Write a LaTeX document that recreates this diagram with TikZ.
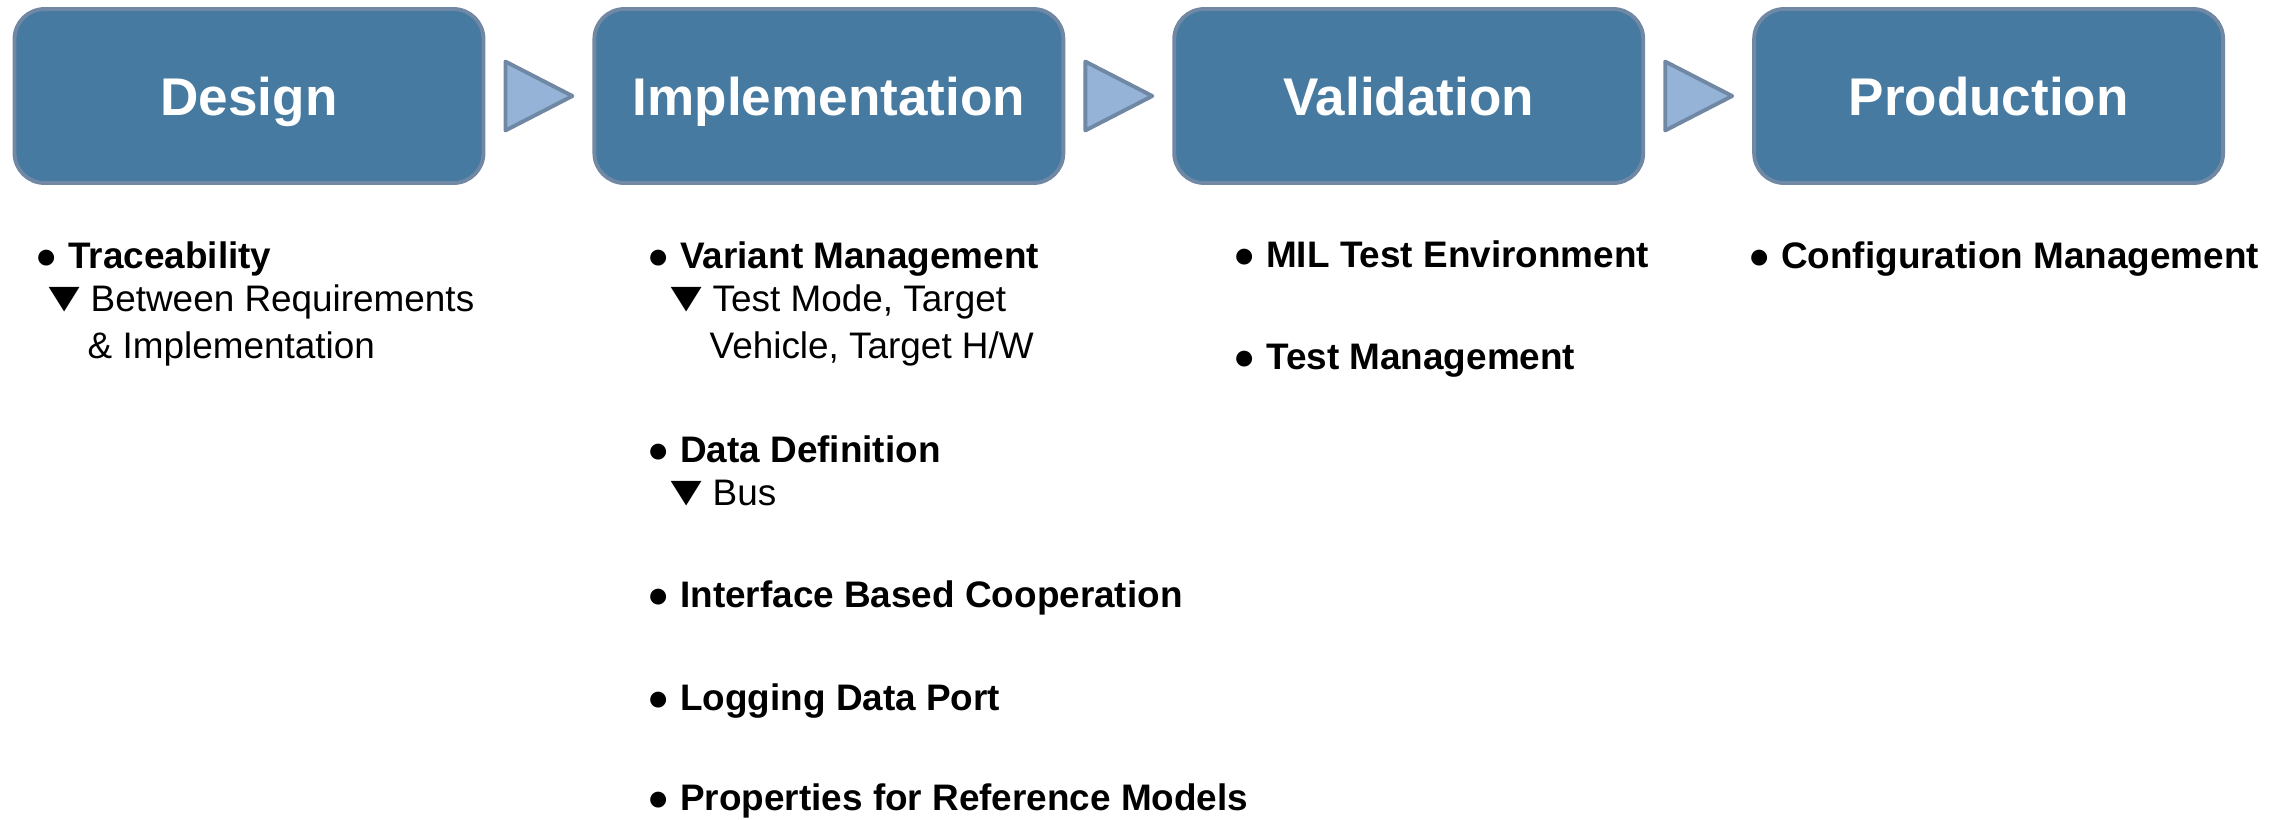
\documentclass[tikz,border=0pt]{standalone}
\usepackage{fontspec}
\setmainfont{Liberation Sans}
\usepackage{graphicx}
\usepackage{tikz}
\usetikzlibrary{positioning, calc}

\definecolor{stagefill}{HTML}{467AA0}
\definecolor{stageline}{HTML}{7088A4}
\definecolor{chevfill}{HTML}{95B3D7}

\tikzset{
  stage/.style={rectangle, rounded corners=0.3cm, draw=stageline,
    line width=1.1pt, fill=stagefill, text=white, inner sep=0pt,
    minimum width=4.69cm, minimum height=1.74cm,
    text height=0.38cm, text depth=0pt,
    font=\bfseries\fontsize{15.1}{18}\selectfont},
  chevron/.style={draw=stageline, line width=1.1pt, fill=chevfill,
    line join=round},
  item/.style={anchor=base west, inner sep=0pt,
    font=\bfseries\fontsize{10.5}{12.6}\selectfont},
  subitem/.style={anchor=base west, inner sep=0pt,
    font=\fontsize{10.5}{12.6}\selectfont},
}
% sub-point marker, kept in a box of fixed width
\newcommand{\subtri}{\makebox[0.40cm][l]{\hspace*{-0.12cm}%
  \smash{\scalebox{1}[0.8]{\fontsize{15}{15}\selectfont ▼}}}}

\begin{document}
\begin{tikzpicture}
        \useasboundingbox (0,0) rectangle (22.90,-8.19);
        % ---- stage boxes ----
        \node[stage] (design) at (2.49,-0.96) {Design};
        \node[stage, right=1.07cm of design] (impl) {Implementation};
        \node[stage, right=1.07cm of impl] (valid) {Validation};
        \node[stage, right=1.07cm of valid] (prod) {Production};
        % chevrons between the stages
        \foreach \a/\b in {design/impl, impl/valid, valid/prod} {
          \coordinate (mid) at ($(\a.east)!0.5!(\b.west)$);
          \draw[chevron] ($(mid)+(-0.335,0.345)$) -- ($(mid)+(0.335,0)$)
                -- ($(mid)+(-0.335,-0.345)$) -- cycle;
        }

        % ---- Design column ----
        \node[item] (trace) at (0.35,-2.68) {● Traceability};
        \node[subitem] (trace1) at (0.50,-3.11) {\subtri Between Requirements};
        \node[subitem] (trace2) at (0.87,-3.58) {\& Implementation};

        % ---- Implementation column ----
        \node[item] (variant) at (6.47,-2.68) {● Variant Management};
        \node[subitem] (variant1) at (6.72,-3.11) {\subtri Test Mode, Target};
        \node[subitem] (variant2) at (7.09,-3.58) {Vehicle, Target H/W};
        \node[item] (datadef) at (6.47,-4.62) {● Data Definition};
        \node[subitem] (datadef1) at (6.72,-5.05) {\subtri Bus};
        \node[item] (iface) at (6.47,-6.07) {● Interface Based Cooperation};
        \node[item] (logport) at (6.47,-7.10) {● Logging Data Port};
        \node[item] (refprop) at (6.47,-8.10) {● Properties for Reference Models};

        % ---- Validation column ----
        \node[item] (miltest) at (12.33,-2.67) {● MIL Test Environment};
        \node[item] (testmgmt) at (12.33,-3.69) {● Test Management};

        % ---- Production column ----
        \node[item] (config) at (17.48,-2.68) {● Configuration Management};
\end{tikzpicture}
\end{document}
